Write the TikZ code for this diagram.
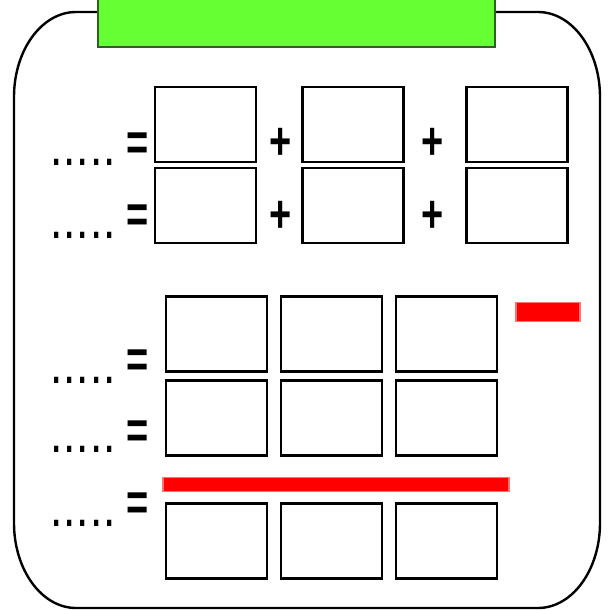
\documentclass[tikz,border=0pt]{standalone}
\usepackage{fontspec}
\setmainfont{Liberation Sans}
\usepackage{tikz}
\definecolor{titlegreen}{RGB}{102,255,51}
\definecolor{titleedge}{RGB}{48,96,30}
\definecolor{barred}{RGB}{255,0,0}
\tikzset{cell/.style={rectangle, draw=black, line width=2.8pt, minimum width=101pt, minimum height=75pt, inner sep=0pt}}
\tikzset{sign/.style={anchor=base, inner sep=0pt, font=\fontsize{38}{38}\selectfont\bfseries}}
\tikzset{blank/.style={anchor=base west, inner sep=0pt, font=\fontsize{30}{30}\selectfont\bfseries}}
\tikzset{redbar/.style={rectangle, fill=barred, draw=barred!55, line width=1.2pt, inner sep=0pt}}
\newcommand{\tall}[1]{\scalebox{1}[1.4]{#1}}
\newcommand{\gap}{.\hspace{5pt}.\hspace{5pt}.\hspace{5pt}.\hspace{5pt}.}

\begin{document}
\begin{tikzpicture}[x=1pt, y=-1pt]
	\useasboundingbox (0,0) rectangle (610,610);
	% frame
	\draw[line width=2.4pt] (14,97) arc[start angle=180, end angle=270, x radius=62, y radius=85]
		-- (538,12) arc[start angle=270, end angle=360, x radius=62, y radius=85]
		-- (600,523) arc[start angle=0, end angle=90, x radius=62, y radius=85]
		-- (76,608) arc[start angle=90, end angle=180, x radius=62, y radius=85] -- cycle;
	\node (title) [rectangle, fill=titlegreen, draw=titleedge, line width=2.5pt, minimum width=397pt, minimum height=52pt, inner sep=0pt] at (296.5,21) {};

	% sums
	\node (a1) [cell, fill=white] at (205.5,124.5) {};
	\node (a2) [cell, fill=white] at (353,124.5) {};
	\node (a3) [cell, fill=white] at (517,124.5) {};
	\node (b1) [cell, fill=white] at (205.5,205.5) {};
	\node (b2) [cell, fill=white] at (353,205.5) {};
	\node (b3) [cell, fill=white] at (517,205.5) {};
	\node (eqa) [sign] at (138,160) {\tall{=}};
	\node (eqb) [sign] at (138,232) {\tall{=}};
	\node (pa1) [sign] at (281,159) {\tall{+}};
	\node (pa2) [sign] at (433,159) {\tall{+}};
	\node (pb1) [sign] at (281,232) {\tall{+}};
	\node (pb2) [sign] at (433,232) {\tall{+}};
	\node (dota) [blank] at (52,165) {\tall{\gap}};
	\node (dotb) [blank] at (52,238) {\tall{\gap}};

	% products
	\node (c1) [cell] at (216.5,334) {};
	\node (c2) [cell] at (331.5,334) {};
	\node (c3) [cell] at (446.5,334) {};
	\node (d1) [cell] at (216.5,418) {};
	\node (d2) [cell] at (331.5,418) {};
	\node (d3) [cell] at (446.5,418) {};
	\node (e1) [cell] at (216.5,541) {};
	\node (e2) [cell] at (331.5,541) {};
	\node (e3) [cell] at (446.5,541) {};
	\node (minus) [redbar, minimum width=64pt, minimum height=19pt] at (548,312) {};
	\node (line) [redbar, minimum width=346pt, minimum height=14pt] at (336,484.5) {};
	\node (eqc) [sign] at (138,377) {\tall{=}};
	\node (eqd) [sign] at (138,448) {\tall{=}};
	\node (eqe) [sign] at (138,520) {\tall{=}};
	\node (dotc) [blank] at (52,383) {\tall{\gap}};
	\node (dotd) [blank] at (52,452) {\tall{\gap}};
	\node (dote) [blank] at (52,526) {\tall{\gap}};
\end{tikzpicture}
\end{document}
